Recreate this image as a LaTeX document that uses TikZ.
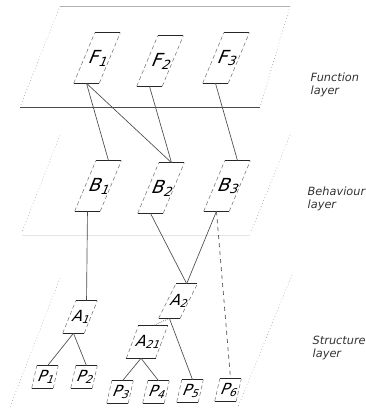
\documentclass[tikz,border=0pt]{standalone}
\usepackage{fontspec}
\setmainfont{DejaVu Sans}
\newfontfamily\slantfont[FakeSlant=0.4]{DejaVu Sans}
\usepackage{tikz}
\usetikzlibrary{arrows.meta,positioning,calc}

\begin{document}
\begin{tikzpicture}[
  x=0.75pt, y=-0.75pt,
  elem/.style={rectangle, minimum width=18.75pt, minimum height=37.5pt, inner sep=0pt,
    font=\fontsize{13.5}{13.5}\selectfont\slantfont},
  asm/.style={elem, minimum width=15.75pt, minimum height=24pt,
    font=\fontsize{11.5}{11.5}\selectfont\slantfont},
  part/.style={elem, minimum width=15.75pt, minimum height=16.5pt,
    font=\fontsize{11.5}{11.5}\selectfont\slantfont},
  sides/.style={black!55, densely dashed, thin},
  topline/.style={line width=1pt, black!85},
  botline/.style={line width=0.6pt, black!85},
  plane/.style={gray, dotted, thin},
  lyr/.style={anchor=west, align=left, font=\fontsize{8.5}{9.5}\selectfont\itshape, text=black!80},
  link/.style={black!70, line width=0.5pt}
]
\useasboundingbox (0,0) rectangle (365,410);

% Layer planes
\draw[gray!60, thin] (60,6) -- (290,6);
\draw[black!70, line width=0.6pt] (20,107) -- (260,107);
\draw[plane] (60,6) -- (20,107);
\draw[plane] (290,6) -- (260,107);

\draw[plane] (60,135) -- (22,232);
\draw[plane] (290,135) -- (251,232);
\draw[gray!20, thin] (22,235) -- (250,235);

\draw[plane] (60,278) -- (10,407);
\draw[plane] (292,275) -- (238,407);

% Function layer
\node[elem] (F1) at (97,58) {F\textsubscript{1}};
\node[elem] (F2) at (160,61) {F\textsubscript{2}};
\node[elem] (F3) at (226,58) {F\textsubscript{3}};

% Behaviour layer
\node[elem] (B1) at (98,186) {B\textsubscript{1}};
\node[elem] (B2) at (161,188) {B\textsubscript{2}};
\node[elem] (B3) at (227,186) {B\textsubscript{3}};

% Structure layer
\node[asm] (A1) at (80,317) {A\textsubscript{1}};
\node[asm, minimum height=25.5pt] (A2) at (178,301) {A\textsubscript{2}};
\node[asm, minimum width=21.5pt] (A21) at (147,342) {A\textsubscript{21}};

\node[part] (P1) at (45,377) {P\textsubscript{1}};
\node[part] (P2) at (84,377) {P\textsubscript{2}};
\node[part] (P3) at (120,392) {P\textsubscript{3}};
\node[part] (P4) at (156,392) {P\textsubscript{4}};
\node[part] (P5) at (190,391) {P\textsubscript{5}};
\node[part] (P6) at (228,390) {P\textsubscript{6}};

% slanted outlines (half shift of the top against the bottom)
\foreach \n/\h in {F1/7.9pt,F2/7.9pt,F3/7.9pt,B1/7.9pt,B2/7.9pt,B3/7.9pt,
                   A1/4.9pt,A2/6.5pt,A21/4.5pt,
                   P1/1.9pt,P2/1.9pt,P3/1.9pt,P4/1.9pt,P5/1.9pt,P6/1.9pt} {
  \draw[sides] ([xshift=-\h]\n.south west) -- ([xshift=\h]\n.north west)
               ([xshift=-\h]\n.south east) -- ([xshift=\h]\n.north east);
  \draw[topline] ([xshift=\h]\n.north west) -- ([xshift=\h]\n.north east);
  \draw[botline] ([xshift=-\h]\n.south west) -- ([xshift=-\h]\n.south east);
  \coordinate (\n-t) at ([xshift=\h]\n.north);
  \coordinate (\n-b) at ([xshift=-\h]\n.south);
}

% Links
\draw[link] (F1-b) -- (B1-t);
\draw[link] (F1-b) -- (B2-t);
\draw[link] (F2-b) -- (B2-t);
\draw[link] (F3-b) -- (B3-t);
\draw[link] (B1-b) -- (A1-t);
\draw[link] (B2-b) -- (A2-t);
\draw[link] (B3-b) -- (A2-t);
\draw[link, dashed] (B3-b) -- (P6-t);
\draw[link, densely dotted] (A2-b) -- (A21-t);
\draw[link] (A2-b) -- (P5-t);
\draw[link] (A1-b) -- (P1-t);
\draw[link] (A1-b) -- (P2-t);
\draw[link] (A21-b) -- (P3-t);
\draw[link] (A21-b) -- (P4-t);

% Layer labels
\node[lyr] (fl) at (306,85) {Function\\layer};
\node[lyr] (bl) at (303,199) {Behaviour\\layer};
\node[lyr] (sl) at (308,348) {Structure\\layer};

\end{tikzpicture}
\end{document}
